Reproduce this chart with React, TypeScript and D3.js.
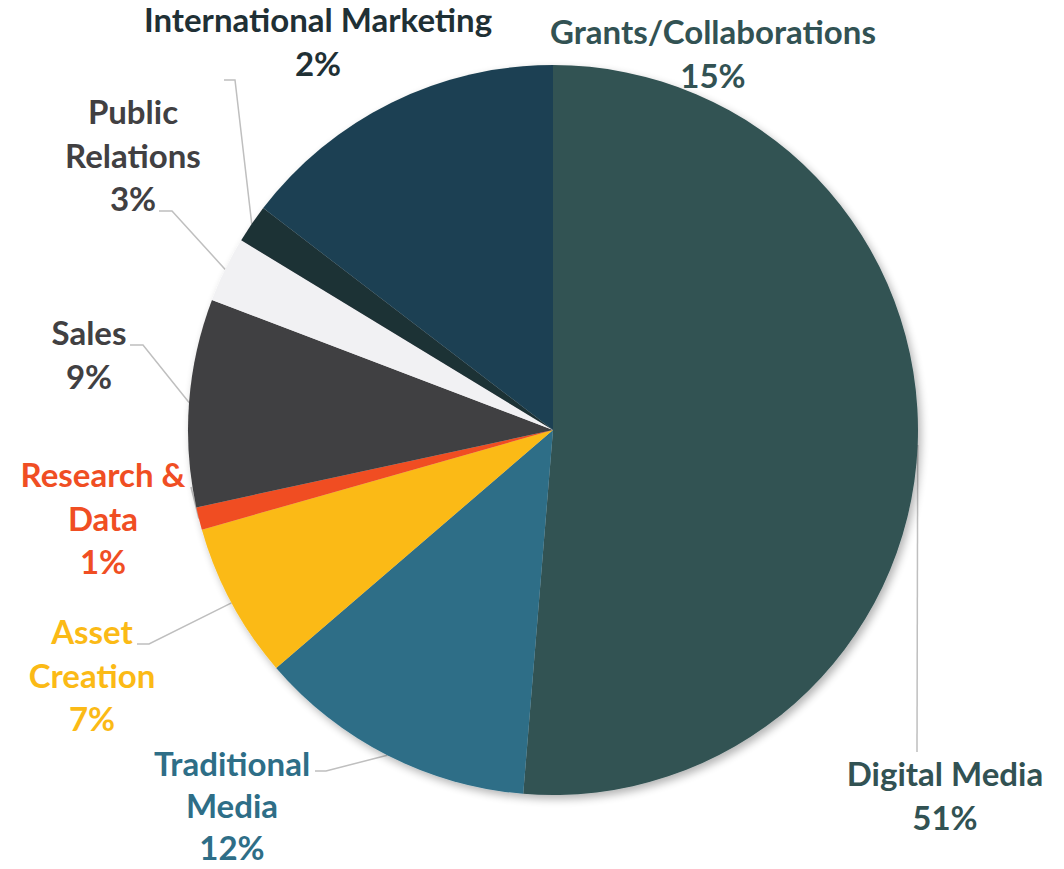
import React, { useMemo } from "react"
import * as d3 from "d3"

// ── Data ───────────────────────────────────────────────────────────────────────

const CATEGORIES = [
  "Digital Media",
  "Traditional Media",
  "Asset Creation",
  "Research & Data",
  "Sales",
  "Public Relations",
  "International Marketing",
  "Grants/Collaborations",
]

const SHARES = [51.3, 12.4, 6.9, 1.0, 9.2, 2.9, 1.7, 14.6]

const PCT_LABELS = ["51%", "12%", "7%", "1%", "9%", "3%", "2%", "15%"]

const SLICE_COLORS = [
  "#325253",
  "#2E6E87",
  "#FBBA16",
  "#F04E23",
  "#414042",
  "#F1F1F3",
  "#1F3035",
  "#1C4152",
]

const LABEL_COLORS = [
  "#325253",
  "#2E6E87",
  "#FBBA16",
  "#F04E23",
  "#414042",
  "#414042",
  "#1F3035",
  "#325253",
]

// ── Layout ─────────────────────────────────────────────────────────────────────

const W = 1064
const H = 869
const CX = 553
const CY = 430
const R = 365
const LINE_H = 43.5

// label block: centre x, first baseline, wrapped lines, leader start and elbow
const LABEL_LAYOUT = {
  "Digital Media": { x: 945, y: 786, lines: ["Digital Media"], lead: [917, 752], elbow: 0, lh: LINE_H },
  "Traditional Media": { x: 232, y: 776, lines: ["Traditional", "Media"], lead: [315, 771], elbow: 11, lh: 42 },
  "Asset Creation": { x: 92, y: 644, lines: ["Asset", "Creation"], lead: [137, 644], elbow: 12, lh: LINE_H },
  "Research & Data": { x: 103, y: 487, lines: ["Research &", "Data"], lead: [191, 487], elbow: 0, lh: LINE_H },
  Sales: { x: 89, y: 345, lines: ["Sales"], lead: [130, 345], elbow: 13, lh: LINE_H },
  "Public Relations": { x: 133, y: 124, lines: ["Public", "Relations"], lead: [159, 211], elbow: 13, lh: LINE_H },
  "International Marketing": { x: 318, y: 32, lines: ["International Marketing"], lead: [224, 80], elbow: 11, lh: LINE_H },
  "Grants/Collaborations": { x: 713, y: 44, lines: ["Grants/Collaborations"], lead: null, elbow: 0, lh: LINE_H },
}

const FONT = "Lato, 'Open Sans', sans-serif"

export default function App() {
  const slices = useMemo(() => {
    const pie = d3
      .pie<number>()
      .sort(null)
      .startAngle(0)
      .endAngle(2 * Math.PI)
      .value(d => d)
    return pie(SHARES).map((p, i) => ({ ...p, name: CATEGORIES[i], i }))
  }, [])

  const arc = d3.arc<any>().innerRadius(0).outerRadius(R)
  const rim = d3.arc<any>().innerRadius(R).outerRadius(R)

  return (
    <svg
      width={W}
      height={H}
      style={{ position: "absolute", left: 0, top: 0, background: "#fff" }}
    >
      <defs>
        <filter id="pie-shadow" x="-10%" y="-10%" width="120%" height="120%">
          <feGaussianBlur in="SourceAlpha" stdDeviation={4} />
          <feOffset dx={3} dy={4} result="blur" />
          <feComponentTransfer>
            <feFuncA type="linear" slope={0.3} />
          </feComponentTransfer>
          <feMerge>
            <feMergeNode />
            <feMergeNode in="SourceGraphic" />
          </feMerge>
        </filter>
      </defs>

      {/* Leader lines, drawn under the pie */}
      <g fill="none" stroke="#BFBFBF" strokeWidth={1.5}>
        {slices.map(s => {
          const lay = LABEL_LAYOUT[s.name]
          if (!lay.lead) return null
          const [ex, ey] = rim.centroid(s)
          const [sx, sy] = lay.lead
          const pts = [[sx, sy]]
          if (lay.elbow) pts.push([sx + lay.elbow, sy])
          pts.push([CX + ex, CY + ey])
          return <path key={s.name} d={d3.line()(pts as [number, number][]) || ""} />
        })}
      </g>

      {/* Pie */}
      <g transform={`translate(${CX},${CY})`} filter="url(#pie-shadow)">
        {slices.map(s => (
          <path key={s.name} d={arc(s) || ""} fill={SLICE_COLORS[s.i]} />
        ))}
      </g>

      {/* Labels */}
      <g fontFamily={FONT} fontWeight={700} fontSize={33} textAnchor="middle">
        {slices.map(s => {
          const lay = LABEL_LAYOUT[s.name]
          const lines = [...lay.lines, PCT_LABELS[s.i]]
          return (
            <text key={s.name} fill={LABEL_COLORS[s.i]}>
              {lines.map((t, k) => (
                <tspan key={k} x={lay.x} y={lay.y + k * lay.lh}>
                  {t}
                </tspan>
              ))}
            </text>
          )
        })}
      </g>
    </svg>
  )
}
